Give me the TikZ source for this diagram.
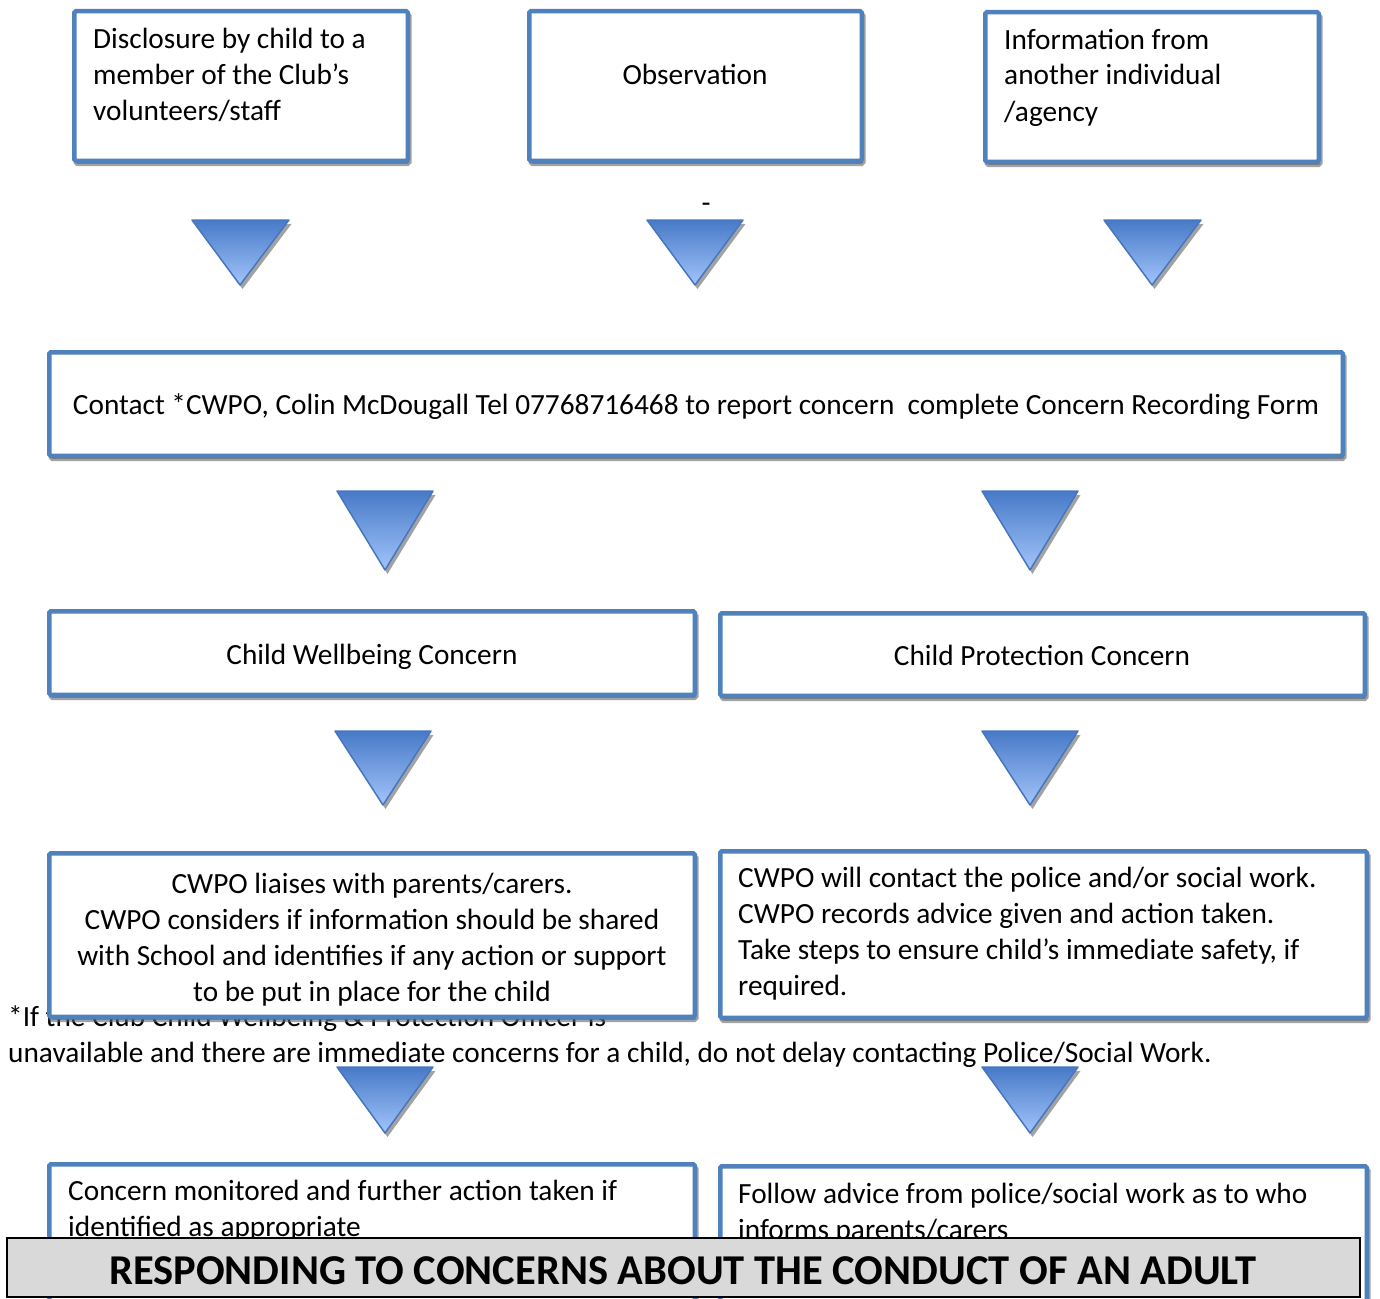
\documentclass[tikz,border=0pt]{standalone}
\usepackage{fontspec}
\setmainfont{Carlito}
\usepackage{tikz}
\usetikzlibrary{positioning, shadows}

\definecolor{boxblue}{RGB}{79,129,189}
\definecolor{tritop}{RGB}{72,122,200}
\definecolor{tribot}{RGB}{162,196,250}
\definecolor{triedge}{RGB}{70,118,190}
\definecolor{shadowgrey}{RGB}{100,100,100}
\definecolor{bannergrey}{RGB}{217,217,217}

\tikzset{
  flowbox/.style={draw=boxblue, line width=4.5pt, fill=white, rounded corners=1.5pt,
    inner sep=0pt,
    drop shadow={draw=shadowgrey, fill=shadowgrey, line width=4.5pt,
      shadow xshift=1.5pt, shadow yshift=-3pt, opacity=0.6}},
  boxtext/.style={inner sep=0pt, font=\fontsize{29.3}{36}\selectfont},
  downtri/.style={top color=tritop, bottom color=tribot, draw=triedge, line width=1.5pt,
    line join=round,
    drop shadow={fill=shadowgrey, shadow xshift=2.5pt, shadow yshift=-4pt, opacity=0.6}},
}

\begin{document}
\begin{tikzpicture}[x=1pt, y=-1pt]
  \useasboundingbox (0,0) rectangle (1380,1298);
  \clip (0,0) rectangle (1380,1298);

  % footnote sits under the boxes
  \node[boxtext, anchor=base west, align=left] (note) at (8,1062)
    {*If the Club Child Wellbeing \& Protection Officer is\\
     unavailable and there are immediate concerns for a child, do not delay contacting Police/Social Work.};

  % how the concern arises
  \node[flowbox, minimum width=333.5pt, minimum height=149.5pt] (disclose) at (241,86) {};
  \node[flowbox, minimum width=332.5pt, minimum height=149.5pt] (observe) at (695.5,86) {};
  \node[flowbox, minimum width=333.5pt, minimum height=149.5pt] (inform) at (1152,87) {};
  \node[boxtext, anchor=base west, align=left] (disclosetxt) at (93,120)
    {Disclosure by child to a\\member of the Club’s\\volunteers/staff};
  \node[boxtext, anchor=base] (observetxt) at (695,84) {Observation};
  \node[boxtext, anchor=base west, align=left] (informtxt) at (1004,121)
    {Information from\\another individual\\/agency};
  \node[boxtext, anchor=base] (dash) at (706,212) {-};

  \path[downtri] (192,220) -- (289,220) -- (240,285) -- cycle;
  \path[downtri] (647,220) -- (743,220) -- (695,285) -- cycle;
  \path[downtri] (1104,220) -- (1201,220) -- (1152,285) -- cycle;

  % report
  \node[flowbox, minimum width=1293.5pt, minimum height=103.5pt] (contact) at (696,404) {};
  \node[boxtext, anchor=base] (contacttxt) at (696,414)
    {Contact *CWPO, Colin McDougall Tel 07768716468 to report concern\ \ complete Concern Recording Form};

  \path[downtri] (337,491) -- (433,491) -- (385,570) -- cycle;
  \path[downtri] (982,491) -- (1078,491) -- (1030,570) -- cycle;

  % two routes
  \node[flowbox, minimum width=645.5pt, minimum height=83.5pt] (wellbeing) at (372,653) {};
  \node[flowbox, minimum width=644.5pt, minimum height=82.5pt] (protect) at (1042.5,654.5) {};
  \node[boxtext, anchor=base] (wellbeingtxt) at (372,664) {Child Wellbeing Concern};
  \node[boxtext, anchor=base] (protecttxt) at (1042,665) {Child Protection Concern};

  \path[downtri] (335,731) -- (431,731) -- (383,805) -- cycle;
  \path[downtri] (982,731) -- (1078,731) -- (1030,805) -- cycle;

  \node[flowbox, minimum width=645.5pt, minimum height=163.5pt] (liaise) at (372,935) {};
  \node[flowbox, minimum width=646.5pt, minimum height=166.5pt] (police) at (1043.5,934.5) {};
  \node[boxtext, anchor=base, align=center] (liaisetxt) at (372,1001)
    {CWPO liaises with parents/carers.\\
     CWPO considers if information should be shared\\
     with School and identifies if any action or support\\
     to be put in place for the child};
  \node[boxtext, anchor=base west, align=left] (policetxt) at (738,995)
    {CWPO will contact the police and/or social work.\\
     CWPO records advice given and action taken.\\
     Take steps to ensure child’s immediate safety, if\\
     required.};

  \path[downtri] (337,1067) -- (433,1067) -- (385,1133) -- cycle;
  \path[downtri] (982,1067) -- (1078,1067) -- (1030,1133) -- cycle;

  \node[flowbox, minimum width=645.5pt, minimum height=163.5pt] (monitor) at (372,1246) {};
  \node[flowbox, minimum width=646.5pt, minimum height=163.5pt] (advice) at (1043.5,1248) {};
  \node[boxtext, anchor=base west, align=left] (monitortxt) at (68,1236)
    {Concern monitored and further action taken if\\identified as appropriate};
  \node[boxtext, anchor=base west, align=left] (advicetxt) at (738,1239)
    {Follow advice from police/social work as to who\\informs parents/carers};

  % title strip
  \node[draw=black, line width=1.2pt, fill=bannergrey, minimum width=1353pt, minimum height=59pt,
    inner sep=0pt] (banner) at (683.5,1267.5) {};
  \node[inner sep=0pt, anchor=base, font=\fontsize{42.5}{46}\selectfont\bfseries] (bannertxt)
    at (683,1284) {RESPONDING TO CONCERNS ABOUT THE CONDUCT OF AN ADULT};
\end{tikzpicture}
\end{document}
